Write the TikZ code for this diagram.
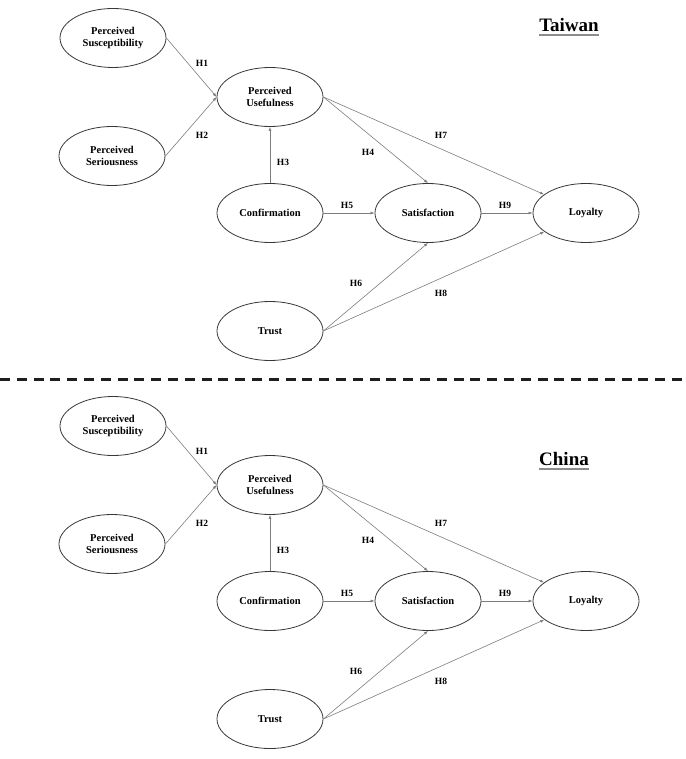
\documentclass[tikz,border=0pt]{standalone}
\usepackage{fontspec}
\setmainfont{Liberation Serif}
\usetikzlibrary{arrows.meta,positioning,shapes.geometric}
\definecolor{RimGray}{RGB}{55,55,55}
\definecolor{EdgeGray}{RGB}{125,125,125}
\definecolor{UnderGray}{RGB}{140,140,140}
\definecolor{SepBlack}{RGB}{30,30,30}
\tikzset{
  construct/.style={draw=RimGray,ellipse,line width=0.8pt,minimum width=106pt,
    minimum height=59pt,inner sep=0pt,align=center,
    font=\fontsize{10.5}{12.5}\selectfont\bfseries},
  link/.style={-{Latex[length=4pt,width=3pt]},EdgeGray,line width=0.6pt},
  hyp/.style={font=\fontsize{9.5}{11}\selectfont\bfseries,inner sep=0pt},
  region/.style={font=\fontsize{19}{22}\selectfont\bfseries,inner sep=0pt},
  sepline/.style={SepBlack,line width=3pt,dash pattern=on 10pt off 6.8pt}
}

\begin{document}
\begin{tikzpicture}[x=1pt,y=-1pt]
  \useasboundingbox (0,0) rectangle (685,759);

  % one panel per country
  \foreach \p/\ttl/\dy/\tx/\ty in {tw/Taiwan/0/569/25,cn/China/388/564/71}{
    \begin{scope}[yshift=-\dy pt]
      \node[construct] (\p-ps) at (113,38) {Perceived\\Susceptibility};
      \node[construct] (\p-pse) at (112,156) {Perceived\\Seriousness};
      \node[construct] (\p-pu) at (270,97) {Perceived\\Usefulness};
      \node[construct] (\p-con) at (270,213) {Confirmation};
      \node[construct] (\p-sat) at (428,213) {Satisfaction};
      \node[construct] (\p-loy) at (586,213) {Loyalty};
      \node[construct] (\p-tru) at (270,331) {Trust};

      \node[region] (\p-title) at (\tx,\ty) {\ttl};
      \draw[UnderGray,line width=1.3pt] ([yshift=-3.5pt]\p-title.base west)
        -- ([yshift=-3.5pt]\p-title.base east);

      \draw[link] (\p-ps.east) -- (\p-pu.west);
      \draw[link] (\p-pse.east) -- (\p-pu.west);
      \draw[link] (\p-con.north) -- (\p-pu.south);
      \draw[link] (\p-pu.east) -- (\p-sat.north);
      \draw[link] (\p-pu.east) -- (\p-loy);
      \draw[link] (\p-con.east) -- (\p-sat.west);
      \draw[link] (\p-sat.east) -- (\p-loy.west);
      \draw[link] (\p-tru.east) -- (\p-sat.south);
      \draw[link] (\p-tru.east) -- (\p-loy);

      \node[hyp] (\p-h1) at (202,63) {H1};
      \node[hyp] (\p-h2) at (202,135) {H2};
      \node[hyp] (\p-h3) at (283,162) {H3};
      \node[hyp] (\p-h4) at (368,152) {H4};
      \node[hyp] (\p-h5) at (347,205) {H5};
      \node[hyp] (\p-h6) at (356,283) {H6};
      \node[hyp] (\p-h7) at (441,135) {H7};
      \node[hyp] (\p-h8) at (441,293) {H8};
      \node[hyp] (\p-h9) at (505,205) {H9};
    \end{scope}
  }

  % divider between the panels
  \coordinate (sepL) at (0,379);
  \coordinate (sepR) at (685,379);
  \draw[sepline] (sepL) -- (sepR);
\end{tikzpicture}
\end{document}
